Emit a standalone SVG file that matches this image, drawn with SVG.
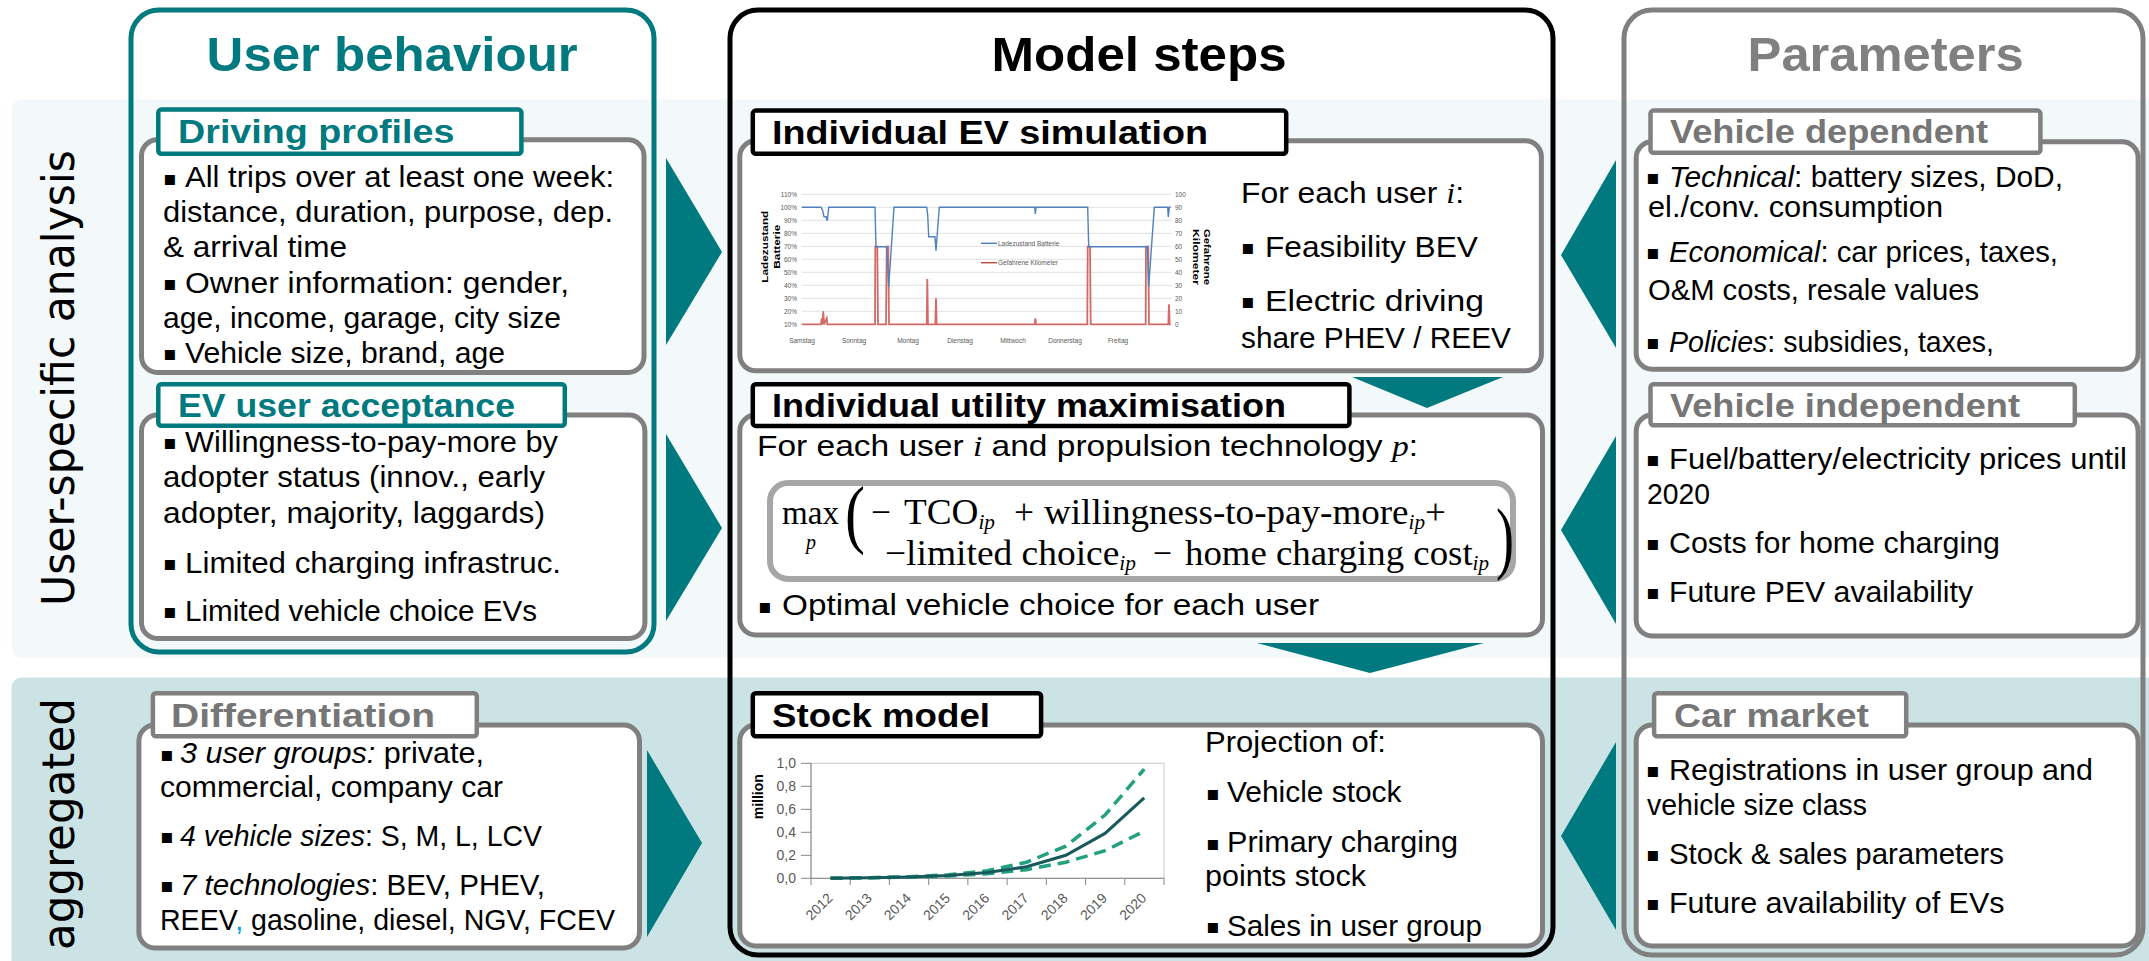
<svg xmlns="http://www.w3.org/2000/svg" width="2149" height="961" viewBox="0 0 2149 961">
<defs>
<style>
text{font-family:"Liberation Sans",Arial,sans-serif}
.t{font-size:29px;fill:#000}
.r{font-size:30px;fill:#000}
.bu{font-family:"DejaVu Sans",sans-serif;font-size:20px;fill:#000}
.lbl{font-size:34px;font-weight:bold}
.ttl{font-size:48px;font-weight:bold}
.tl{fill:#00797f}
.gy{fill:#7f7f7f}
.bk{fill:#000}
.box{fill:#fff;stroke:#808080;stroke-width:5}
.lbt{fill:#fff;stroke:#00797f;stroke-width:4.5}
.lbg{fill:#fff;stroke:#808080;stroke-width:4.5}
.lbk{fill:#fff;stroke:#000;stroke-width:4.5}
.fm{font-family:"Liberation Serif","Times New Roman",serif;font-size:35px;fill:#000}
.sb{font-family:"Liberation Serif","Times New Roman",serif;font-size:20px;font-style:italic;fill:#000}
.se{font-family:"Liberation Serif","Times New Roman",serif;font-style:italic}
.it{font-style:italic}
.sm{font-size:6.5px;fill:#595959}
.ax{font-size:8.5px;font-weight:bold;fill:#000}
.yl{font-size:14px;fill:#595959}
.grid{stroke:#d9d9d9;stroke-width:0.8}
.arrow{fill:#00797f}
.vert{font-family:"DejaVu Sans",sans-serif;font-size:45px;fill:#000}
</style>
</defs>
<rect width="2149" height="961" fill="#fff"/>
<g id="bands">
<rect x="11.5" y="99.3" width="2160" height="558.4" rx="10" fill="#f3f8fa"/>
<rect x="11.5" y="677.5" width="2160" height="300" rx="10" fill="#cce3e6"/>
<text class="vert" transform="translate(73.5,606) rotate(-90)" textLength="456" lengthAdjust="spacingAndGlyphs">User-specific analysis</text>
<text class="vert" transform="translate(73.5,950) rotate(-90)" textLength="252" lengthAdjust="spacingAndGlyphs">aggregated</text>
</g>

<g id="col-user">
<rect x="131" y="10" width="523" height="642" rx="28" fill="none" stroke="#00797f" stroke-width="5"/>
<text class="ttl tl" x="206.6" y="70.7" textLength="371" lengthAdjust="spacingAndGlyphs">User behaviour</text>
</g>
<g id="col-model">
<rect x="730" y="10" width="823" height="945" rx="28" fill="none" stroke="#000" stroke-width="5"/>
<text class="ttl bk" x="991.6" y="70.7" textLength="295" lengthAdjust="spacingAndGlyphs">Model steps</text>
</g>
<g id="col-parameters">
<rect x="1624" y="10" width="519" height="945" rx="28" fill="none" stroke="#808080" stroke-width="5"/>
<text class="ttl" fill="#808080" x="1747.6" y="70.7" textLength="276" lengthAdjust="spacingAndGlyphs">Parameters</text>
</g>

<g id="connectors">
<polygon class="arrow" points="666,158 722,252 666,345"/>
<polygon class="arrow" points="666,434 722,528 666,621"/>
<polygon class="arrow" points="647,750 702,843 647,937"/>
<polygon class="arrow" points="1616,160 1561,255 1616,348"/>
<polygon class="arrow" points="1616,436 1561,530 1616,624"/>
<polygon class="arrow" points="1616,742 1561,836 1616,930"/>
<polygon class="arrow" points="1352,377 1503,377 1427,408"/>
<polygon class="arrow" points="1257,643 1484,643 1370,673"/>
</g>

<g id="node-driving-profiles">
<rect class="box" x="141.5" y="139.8" width="502.5" height="232.7" rx="16"/>
<rect class="lbt" x="158.3" y="109.6" width="363.1" height="44.2" rx="3"/>
<text class="lbl tl" x="178" y="143.3" textLength="276.5" lengthAdjust="spacingAndGlyphs">Driving profiles</text>
<text class="bu" x="163" y="184.5">▪</text>
<text class="t" x="185" y="187.3" textLength="429" lengthAdjust="spacingAndGlyphs">All trips over at least one week:</text>
<text class="t" x="163" y="221.7" textLength="450" lengthAdjust="spacingAndGlyphs">distance, duration, purpose, dep.</text>
<text class="t" x="163" y="256.7" textLength="184" lengthAdjust="spacingAndGlyphs">&amp; arrival time</text>
<text class="bu" x="163" y="290">▪</text>
<text class="t" x="185" y="292.7" textLength="384" lengthAdjust="spacingAndGlyphs">Owner information: gender,</text>
<text class="t" x="163" y="328.3" textLength="398" lengthAdjust="spacingAndGlyphs">age, income, garage, city size</text>
<text class="bu" x="163" y="360">▪</text>
<text class="t" x="185" y="362.7" textLength="320" lengthAdjust="spacingAndGlyphs">Vehicle size, brand, age</text>
</g>

<g id="node-ev-acceptance">
<rect class="box" x="141.5" y="415.1" width="503.4" height="223.4" rx="16"/>
<rect class="lbt" x="158.3" y="384.3" width="406.5" height="41.5" rx="3"/>
<text class="lbl tl" x="178" y="417" textLength="337" lengthAdjust="spacingAndGlyphs">EV user acceptance</text>
<text class="bu" x="163" y="449.3">▪</text>
<text class="t" x="185" y="452" textLength="373" lengthAdjust="spacingAndGlyphs">Willingness-to-pay-more by</text>
<text class="t" x="163" y="487.4" textLength="382" lengthAdjust="spacingAndGlyphs">adopter status (innov., early</text>
<text class="t" x="163" y="522.6" textLength="382" lengthAdjust="spacingAndGlyphs">adopter, majority, laggards)</text>
<text class="bu" x="163" y="570">▪</text>
<text class="t" x="185" y="572.6" textLength="376" lengthAdjust="spacingAndGlyphs">Limited charging infrastruc.</text>
<text class="bu" x="163" y="618">▪</text>
<text class="t" x="185" y="620.7" textLength="352" lengthAdjust="spacingAndGlyphs">Limited vehicle choice EVs</text>
</g>

<g id="node-differentiation">
<rect class="box" x="138.9" y="725.1" width="500.6" height="222.8" rx="16"/>
<rect class="lbg" x="152.9" y="693.3" width="323.9" height="43" rx="3"/>
<text class="lbl" fill="#767676" x="171" y="727.4" textLength="264" lengthAdjust="spacingAndGlyphs">Differentiation</text>
<text class="bu" x="160" y="760.6">▪</text>
<text class="t" x="180" y="763.3" textLength="304" lengthAdjust="spacingAndGlyphs"><tspan class="it">3 user groups:</tspan> private,</text>
<text class="t" x="160" y="796.7" textLength="343" lengthAdjust="spacingAndGlyphs">commercial, company car</text>
<text class="bu" x="160" y="843.3">▪</text>
<text class="t" x="180" y="846" textLength="362" lengthAdjust="spacingAndGlyphs"><tspan class="it">4 vehicle sizes</tspan>: S, M, L, LCV</text>
<text class="bu" x="160" y="892">▪</text>
<text class="t" x="180" y="894.8" textLength="365" lengthAdjust="spacingAndGlyphs"><tspan class="it">7 technologies</tspan>: BEV, PHEV,</text>
<text class="t" x="160" y="930" textLength="455" lengthAdjust="spacingAndGlyphs">REEV<tspan fill="#00a0e0">,</tspan> gasoline, diesel, NGV, FCEV</text>
</g>

<g id="node-ev-simulation">
<rect class="box" x="739.8" y="140.8" width="801.6" height="230" rx="16"/>
<rect class="lbk" x="752.8" y="110.6" width="533.4" height="43.2" rx="3"/>
<text class="lbl bk" x="772" y="144" textLength="436" lengthAdjust="spacingAndGlyphs">Individual EV simulation</text>
<g id="soc-chart">
<path class="grid" d="M801.7,194.3H1171.7M801.7,207.3H1171.7M801.7,220.3H1171.7M801.7,233.3H1171.7M801.7,246.3H1171.7M801.7,259.3H1171.7M801.7,272.3H1171.7M801.7,285.3H1171.7M801.7,298.3H1171.7M801.7,311.3H1171.7M801.7,324.3H1171.7"/>
<g class="sm" text-anchor="end">
<text x="797" y="196.5">110%</text><text x="797" y="209.5">100%</text><text x="797" y="222.5">90%</text><text x="797" y="235.5">80%</text><text x="797" y="248.5">70%</text><text x="797" y="261.5">60%</text><text x="797" y="274.5">50%</text><text x="797" y="287.5">40%</text><text x="797" y="300.5">30%</text><text x="797" y="313.5">20%</text><text x="797" y="326.5">10%</text>
</g>
<g class="sm">
<text x="1175" y="196.5">100</text><text x="1175" y="209.5">90</text><text x="1175" y="222.5">80</text><text x="1175" y="235.5">70</text><text x="1175" y="248.5">60</text><text x="1175" y="261.5">50</text><text x="1175" y="274.5">40</text><text x="1175" y="287.5">30</text><text x="1175" y="300.5">20</text><text x="1175" y="313.5">10</text><text x="1175" y="326.5">0</text>
</g>
<g class="sm" text-anchor="middle">
<text x="802" y="343">Samstag</text><text x="854" y="343">Sonntag</text><text x="908" y="343">Montag</text><text x="960" y="343">Dienstag</text><text x="1013" y="343">Mittwoch</text><text x="1065" y="343">Donnerstag</text><text x="1118" y="343">Freitag</text>
</g>
<text class="ax" transform="translate(767.5,246.7) rotate(-90)" x="-36" textLength="72" lengthAdjust="spacingAndGlyphs">Ladezustand</text>
<text class="ax" transform="translate(780,246.7) rotate(-90)" x="-22" textLength="44" lengthAdjust="spacingAndGlyphs">Batterie</text>
<text class="ax" transform="translate(1204,257) rotate(90)" x="-28" textLength="56" lengthAdjust="spacingAndGlyphs">Gefahrene</text>
<text class="ax" transform="translate(1192.5,257) rotate(90)" x="-28" textLength="56" lengthAdjust="spacingAndGlyphs">Kilometer</text>
<path d="M981,243.3H997" stroke="#4f81bd" stroke-width="1.5"/>
<text class="sm" x="998" y="245.8" fill="#404040">Ladezustand Batterie</text>
<path d="M981,262.7H997" stroke="#c0504d" stroke-width="1.5"/>
<text class="sm" x="998" y="265.2" fill="#404040">Gefahrene Kilometer</text>
<path fill="none" stroke="#d26b68" stroke-width="1.8" d="M801.7,324.3 L821,324.3 L821.7,318.3 L822.3,324.3 L823.3,311.3 L824,324.3 L826.7,318.3 L827.3,324.3 L875,324.3 L875.3,246.7 L877.3,246.7 L878,324.3 L886,324.3 L886.7,246.7 L888.3,246.7 L889,324.3 L926.7,324.3 L927.3,279 L928,324.3 L935.3,324.3 L936,298.3 L936.7,324.3 L1034.7,324.3 L1035.3,318.3 L1036,324.3 L1087.3,324.3 L1087.7,246.7 L1090,246.7 L1090.7,324.3 L1145.7,324.3 L1146,246.7 L1148.3,246.7 L1149,324.3 L1168.3,324.3 L1169,304.3 L1169.7,324.3 L1170.7,324.3"/>
<path fill="none" stroke="#4f81bd" stroke-width="1.4" d="M801.7,207.3 L821,207.3 L822.7,210.7 L824,216.7 L826,216.7 L827.3,220.7 L828.7,207.3 L875,207.3 L876,246.7 L886.7,246.7 L888.7,286.7 L894,207.3 L926.7,207.3 L927.7,215 L928.7,236.7 L935,236.7 L936,250.7 L939.3,207.3 L1034.7,207.3 L1035.3,214 L1036,207.3 L1087.7,207.3 L1088.7,246.7 L1147.3,246.7 L1148.7,286.7 L1154.3,207.3 L1167.7,207.3 L1168.3,217 L1169.3,207.3 L1170.7,207.3"/>
</g>
<text class="t" x="1241" y="202.7" textLength="223" lengthAdjust="spacingAndGlyphs">For each user <tspan class="se">i</tspan>:</text>
<text class="bu" x="1241" y="254">▪</text>
<text class="t" x="1265" y="256.7" textLength="213" lengthAdjust="spacingAndGlyphs">Feasibility BEV</text>
<text class="bu" x="1241" y="308">▪</text>
<text class="t" x="1265" y="310.7" textLength="219" lengthAdjust="spacingAndGlyphs">Electric driving</text>
<text class="t" x="1241" y="348.3" textLength="270" lengthAdjust="spacingAndGlyphs">share PHEV / REEV</text>
</g>

<g id="node-utility">
<rect class="box" x="739.8" y="415.1" width="802.7" height="219.8" rx="16"/>
<rect class="lbk" x="752.8" y="384.3" width="596.6" height="41.6" rx="3"/>
<text class="lbl bk" x="772" y="417" textLength="514" lengthAdjust="spacingAndGlyphs">Individual utility maximisation</text>
<text class="t" x="757" y="455.9" textLength="661" lengthAdjust="spacingAndGlyphs">For each user <tspan class="se">i</tspan> and propulsion technology <tspan class="se">p</tspan>:</text>
<rect x="770" y="483" width="743" height="96" rx="18" fill="#fff" stroke="#a6a6a6" stroke-width="6"/>
<g id="formula">
<text class="fm" x="782" y="524" style="font-size:33px" textLength="57" lengthAdjust="spacingAndGlyphs">max</text>
<text class="sb" x="806" y="549">p</text>
<text class="fm" x="845" y="539" style="font-size:77px" textLength="20" lengthAdjust="spacingAndGlyphs">(</text>
<text class="fm" x="871" y="524" textLength="20" lengthAdjust="spacingAndGlyphs">−</text>
<text class="fm" x="904" y="524" textLength="91" lengthAdjust="spacingAndGlyphs">TCO<tspan class="sb" dy="5">ip</tspan></text>
<text class="fm" x="1014" y="524" textLength="20" lengthAdjust="spacingAndGlyphs">+</text>
<text class="fm" x="1044" y="524" textLength="402" lengthAdjust="spacingAndGlyphs">willingness-to-pay-more<tspan class="sb" dy="5">ip</tspan><tspan dy="-5">+</tspan></text>
<text class="fm" x="885" y="565" textLength="251" lengthAdjust="spacingAndGlyphs">−limited choice<tspan class="sb" dy="5">ip</tspan></text>
<text class="fm" x="1153" y="565" textLength="19" lengthAdjust="spacingAndGlyphs">−</text>
<text class="fm" x="1185" y="565" textLength="304" lengthAdjust="spacingAndGlyphs">home charging cost<tspan class="sb" dy="5">ip</tspan></text>
<text class="fm" x="1496" y="563.6" style="font-size:80px" textLength="18" lengthAdjust="spacingAndGlyphs">)</text>
</g>
<text class="bu" x="758" y="612.5">▪</text>
<text class="t" x="782" y="615.2" textLength="537" lengthAdjust="spacingAndGlyphs">Optimal vehicle choice for each user</text>
</g>

<g id="node-stock">
<rect class="box" x="739.8" y="725.1" width="802.7" height="220.9" rx="16"/>
<rect class="lbk" x="752.8" y="693.3" width="288.3" height="43" rx="3"/>
<text class="lbl bk" x="772" y="727.4" textLength="218" lengthAdjust="spacingAndGlyphs">Stock model</text>
<g id="stock-chart">
<rect x="811" y="763.3" width="353" height="115" fill="none" stroke="#c8c8c8" stroke-width="1"/>
<path d="M811,763.3V878.3H1164" fill="none" stroke="#868686" stroke-width="1"/>
<path stroke="#868686" stroke-width="1" d="M801,763.3H811M801,786.3H811M801,809.3H811M801,832.3H811M801,855.3H811M801,878.3H811M811,878.3V885M850.2,878.3V885M889.4,878.3V885M928.7,878.3V885M967.9,878.3V885M1007.1,878.3V885M1046.3,878.3V885M1085.6,878.3V885M1124.8,878.3V885M1164,878.3V885"/>
<g class="yl" text-anchor="end">
<text x="796" y="768.3">1,0</text><text x="796" y="791.3">0,8</text><text x="796" y="814.3">0,6</text><text x="796" y="837.3">0,4</text><text x="796" y="860.3">0,2</text><text x="796" y="883.3">0,0</text>
</g>
<text x="763" y="796.7" font-size="14" font-weight="bold" transform="rotate(-90 763 796.7)" text-anchor="middle">million</text>
<g class="yl" text-anchor="end">
<text transform="translate(833.5,899) rotate(-45)">2012</text>
<text transform="translate(872.7,899) rotate(-45)">2013</text>
<text transform="translate(911.9,899) rotate(-45)">2014</text>
<text transform="translate(951.1,899) rotate(-45)">2015</text>
<text transform="translate(990.3,899) rotate(-45)">2016</text>
<text transform="translate(1029.6,899) rotate(-45)">2017</text>
<text transform="translate(1068.8,899) rotate(-45)">2018</text>
<text transform="translate(1108,899) rotate(-45)">2019</text>
<text transform="translate(1147.2,899) rotate(-45)">2020</text>
</g>
<path fill="none" stroke="#22a07f" stroke-width="3.5" stroke-dasharray="12 7" d="M830.5,878.3 L869.7,877.7 L908.9,876.8 L948.1,874.8 L987.3,870.8 L1026.6,862.2 L1065.8,846.1 L1105,815.1 L1144.2,769.1"/>
<path fill="none" stroke="#22a07f" stroke-width="3.5" stroke-dasharray="12 7" d="M830.5,878.3 L869.7,877.8 L908.9,877.1 L948.1,876 L987.3,873.7 L1026.6,869.7 L1065.8,862.2 L1105,850.7 L1144.2,831.2"/>
<path fill="none" stroke="#17595c" stroke-width="3" d="M830.5,878.3 L869.7,877.7 L908.9,876.9 L948.1,875.4 L987.3,872.6 L1026.6,866.8 L1065.8,855.3 L1105,833.4 L1144.2,797.8"/>
</g>
<text class="t" x="1205" y="752.2" textLength="181" lengthAdjust="spacingAndGlyphs">Projection of:</text>
<text class="bu" x="1206" y="799.5">▪</text>
<text class="t" x="1227" y="802.2" textLength="174.5" lengthAdjust="spacingAndGlyphs">Vehicle stock</text>
<text class="bu" x="1206" y="849.5">▪</text>
<text class="t" x="1227" y="852.2" textLength="231" lengthAdjust="spacingAndGlyphs">Primary charging</text>
<text class="t" x="1205" y="885.6" textLength="161" lengthAdjust="spacingAndGlyphs">points stock</text>
<text class="bu" x="1206" y="933">▪</text>
<text class="t" x="1227" y="935.6" textLength="255" lengthAdjust="spacingAndGlyphs">Sales in user group</text>
</g>

<g id="node-vehicle-dependent">
<rect class="box" x="1636.2" y="141.8" width="501.9" height="227.4" rx="16"/>
<rect class="lbg" x="1650.5" y="110.6" width="389.9" height="42.2" rx="3"/>
<text class="lbl" fill="#767676" x="1670" y="143.3" textLength="318" lengthAdjust="spacingAndGlyphs">Vehicle dependent</text>
<text class="bu" x="1646" y="183.5">▪</text>
<text class="r" x="1669" y="186.7" textLength="394" lengthAdjust="spacingAndGlyphs"><tspan class="it">Technical</tspan>: battery sizes, DoD,</text>
<text class="r" x="1648" y="216.7" textLength="295" lengthAdjust="spacingAndGlyphs">el./conv. consumption</text>
<text class="bu" x="1646" y="258.5">▪</text>
<text class="r" x="1669" y="261.7" textLength="389" lengthAdjust="spacingAndGlyphs"><tspan class="it">Economical</tspan>: car prices, taxes,</text>
<text class="r" x="1648" y="300" textLength="331" lengthAdjust="spacingAndGlyphs">O&amp;M costs, resale values</text>
<text class="bu" x="1646" y="348.5">▪</text>
<text class="r" x="1669" y="351.7" textLength="325" lengthAdjust="spacingAndGlyphs"><tspan class="it">Policies</tspan>: subsidies, taxes,</text>
</g>

<g id="node-vehicle-independent">
<rect class="box" x="1636.2" y="415.1" width="501.9" height="220.9" rx="16"/>
<rect class="lbg" x="1650.5" y="384.3" width="424.3" height="40.9" rx="3"/>
<text class="lbl" fill="#767676" x="1670" y="417" textLength="350" lengthAdjust="spacingAndGlyphs">Vehicle independent</text>
<text class="bu" x="1646" y="465.7">▪</text>
<text class="r" x="1669" y="468.9" textLength="458" lengthAdjust="spacingAndGlyphs">Fuel/battery/electricity prices until</text>
<text class="r" x="1647" y="504" textLength="63" lengthAdjust="spacingAndGlyphs">2020</text>
<text class="bu" x="1646" y="550">▪</text>
<text class="r" x="1669" y="553.3" textLength="331" lengthAdjust="spacingAndGlyphs">Costs for home charging</text>
<text class="bu" x="1646" y="599">▪</text>
<text class="r" x="1669" y="602.2" textLength="304" lengthAdjust="spacingAndGlyphs">Future PEV availability</text>
</g>

<g id="node-car-market">
<rect class="box" x="1636.2" y="725.1" width="501.9" height="220.9" rx="16"/>
<rect class="lbg" x="1654.1" y="693.3" width="252.1" height="43" rx="3"/>
<text class="lbl" fill="#767676" x="1674" y="727.4" textLength="195" lengthAdjust="spacingAndGlyphs">Car market</text>
<text class="bu" x="1646" y="776.8">▪</text>
<text class="r" x="1669" y="780" textLength="424" lengthAdjust="spacingAndGlyphs">Registrations in user group and</text>
<text class="r" x="1647" y="815.2" textLength="220" lengthAdjust="spacingAndGlyphs">vehicle size class</text>
<text class="bu" x="1646" y="861.2">▪</text>
<text class="r" x="1669" y="864.4" textLength="335" lengthAdjust="spacingAndGlyphs">Stock &amp; sales parameters</text>
<text class="bu" x="1646" y="910">▪</text>
<text class="r" x="1669" y="913.3" textLength="335.5" lengthAdjust="spacingAndGlyphs">Future availability of EVs</text>
</g>
</svg>
